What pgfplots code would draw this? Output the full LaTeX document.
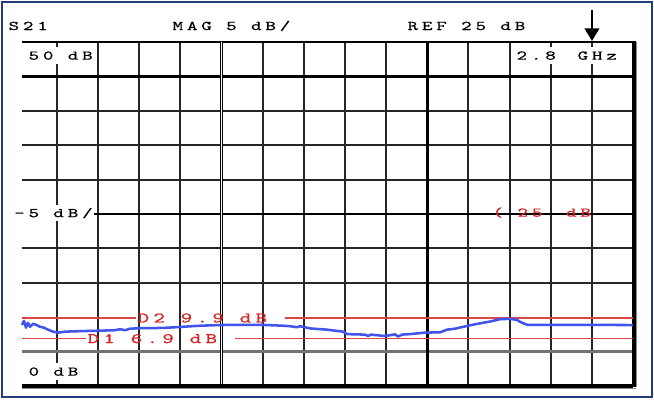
\documentclass[border=0pt]{standalone}
\usepackage{pgfplots}
\pgfplotsset{compat=1.18}
\usepackage{fontspec}
\usetikzlibrary{arrows.meta}
\newfontfamily\mono[FakeStretch=1.5,LetterSpace=29,FakeBold=0.6]{Latin Modern Mono}
\definecolor{trace}{RGB}{65,85,235}
\definecolor{limit}{RGB}{220,70,70}
\definecolor{limtxt}{RGB}{215,35,35}
\definecolor{frame}{RGB}{35,60,125}
\tikzset{
  blk/.style={font={\fontsize{10pt}{11pt}\mono}, anchor=west, inner xsep=1pt,
    inner ysep=3.2pt, text height=6.3pt, text depth=0pt},
  redt/.style={font={\fontsize{11pt}{12pt}\mono}, text=limtxt, anchor=west,
    inner xsep=1pt, inner ysep=1pt, text height=6.9pt, text depth=0pt},
}

\begin{document}
\begin{tikzpicture}
\begin{axis}[
  width=458.25pt, height=258pt, scale only axis,
  xmin=-0.8507, xmax=14, ymin=0, ymax=50,
  axis line style={draw=none},
  xtick={0,1,2,3,5,6,7,8,10,11,12,13},
  ytick={15,20,30,35,40},
  xticklabels={}, yticklabels={},
  major tick length=0pt,
  grid=major,
  major grid style={draw=black!85, line width=1.4pt},
  clip=false,
]
% heavier graticule lines
\draw[black, line width=1.8pt] (axis cs:-0.8507,50) -- (axis cs:14,50);
\draw[black, line width=1.8pt] (axis cs:-0.8507,45) -- (axis cs:14,45);
\draw[black, line width=2pt] (axis cs:-0.8507,25) -- (axis cs:14,25);
\draw[black!55, line width=2.5pt] (axis cs:-0.8507,5) -- (axis cs:14,5);
\draw[black, line width=0.75pt, double=white, double distance=0.75pt] (axis cs:4,0) -- (axis cs:4,50);
\draw[black, line width=2.5pt] (axis cs:9,0) -- (axis cs:9,50);
\draw[black!45, line width=1.2pt] (axis cs:-0.8507,-0.363) -- (axis cs:14.07,-0.363);
\draw[black!45, line width=1.2pt] (axis cs:14.07,50) -- (axis cs:14.07,-0.2);
\draw[black, line width=2.4pt] (axis cs:-0.8507,0) -- (axis cs:14,0);
\draw[black, line width=3pt] (axis cs:14.02,50.1) -- (axis cs:14.02,-0.1);

% limit lines D1 / D2
\draw[limit, line width=1.2pt] (axis cs:-0.8507,9.9) -- (axis cs:1.92,9.9);
\draw[limit, line width=1.2pt] (axis cs:5.5417,9.9) -- (axis cs:14,9.9);
\draw[limit, line width=1.2pt] (axis cs:-0.8507,6.9) -- (axis cs:0.7049,6.9);
\draw[limit, line width=1.2pt] (axis cs:4.3264,6.9) -- (axis cs:14,6.9);
\node[redt] at (axis cs:1.9201,9.9) {D2 9.9 dB};
\node[redt] at (axis cs:0.7049,6.9) {D1 6.9 dB};

% screen annotations
\node[blk] at (axis cs:-1.2153,52.35) {S21};
\node[blk] at (axis cs:2.7708,52.35) {MAG 5 dB/};
\node[blk] at (axis cs:8.4826,52.35) {REF 25 dB};
\node[blk, fill=white] at (axis cs:-0.7292,48.04) {50 dB};
\node[blk, fill=white] at (axis cs:11.1319,48.04) {2.8 \hspace{5.6pt}GHz};
\node[blk, fill=white] at (axis cs:-1.0792,25.15) {-5 dB/};
\node[blk, fill=white] at (axis cs:-0.7292,2.108) {0 dB};
\node[blk, text=limtxt] at (axis cs:10.549,25.22) {( 25 \hspace{7pt}dB};

% marker arrow
\draw[black, line width=1.5pt, -{Triangle[width=11pt,length=9.5pt]}]
  (axis cs:13.003,54.65) -- (axis cs:13.003,50.15);

% S21 trace
\addplot[trace, line width=1.9pt, line join=round] coordinates {
  (-0.851,8.90) (-0.802,9.47) (-0.753,8.47) (-0.705,9.19) (-0.656,8.61)
  (-0.583,9.04) (-0.510,8.90) (-0.413,8.61) (-0.316,8.47) (-0.219,8.19)
  (-0.097,7.90) (0.024,7.76) (0.194,7.90) (0.559,7.97) (1.045,8.04)
  (1.410,8.11) (1.531,8.26) (1.653,8.11) (1.774,8.33) (2.017,8.40)
  (2.261,8.40) (2.674,8.47) (3.063,8.61) (3.476,8.76) (3.962,8.86)
  (4.448,8.90) (4.934,8.90) (5.493,8.76) (5.664,8.69) (5.834,8.54)
  (5.907,8.69) (6.150,8.37) (6.563,8.19) (6.952,7.90) (7.049,7.54)
  (7.487,7.47) (7.560,7.26) (7.633,7.47) (7.973,7.26) (8.216,7.51)
  (8.289,7.19) (8.386,7.47) (8.580,7.54) (8.945,7.76) (9.310,7.80)
  (9.480,8.19) (9.674,8.33) (9.917,8.66) (10.160,8.97) (10.525,9.37)
  (10.768,9.71) (11.011,9.76) (11.181,9.61) (11.254,9.33) (11.424,8.90)
  (11.740,8.90) (12.226,8.90) (14.0,8.86)
};

% outer frame and picture extent
\draw[frame, line width=1.5pt] (axis cs:-1.3247,55.814) rectangle (axis cs:14.4497,-1.6715);
\coordinate (bb1) at (axis cs:-1.3854,56.105);
\coordinate (bb2) at (axis cs:14.5104,-2.0349);
\end{axis}
\pgfresetboundingbox
\path (bb1) rectangle (bb2);
\end{tikzpicture}
\end{document}
